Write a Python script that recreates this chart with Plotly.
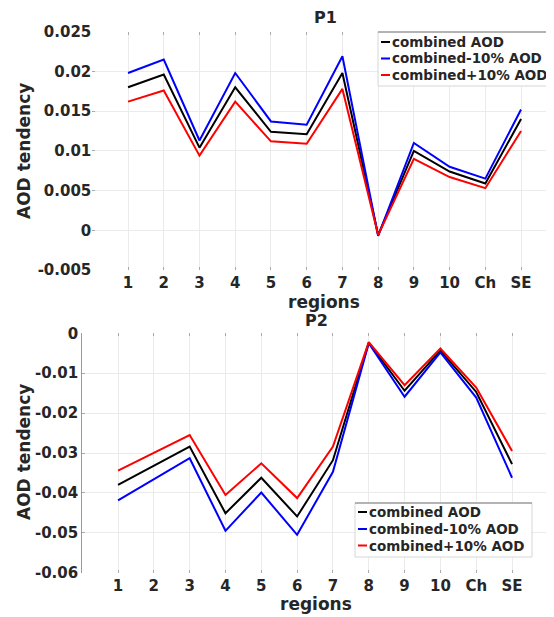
import plotly.graph_objects as go

# reference canvas (screen pixels) and the page body margin of the browser
W, H = 554, 617
BODY = 8
FW, FH = W - BODY, H - BODY

regions = ["1", "2", "3", "4", "5", "6", "7", "8", "9", "10", "Ch", "SE"]
xpos = list(range(1, len(regions) + 1))
series_names = ["combined AOD", "combined-10% AOD", "combined+10% AOD"]
series_colors = ["#000000", "#0000ff", "#ff0000"]

# P1 values
p1_combined = [0.0180, 0.0196, 0.0104, 0.0180, 0.0124, 0.0121, 0.0198, -0.0006, 0.0100, 0.0074, 0.0059, 0.0140]
p1_minus10 = [0.0198, 0.0215, 0.0113, 0.0198, 0.0137, 0.0133, 0.0219, -0.0007, 0.0110, 0.0080, 0.0065, 0.0152]
p1_plus10 = [0.0162, 0.0176, 0.0094, 0.0162, 0.0112, 0.0109, 0.0178, -0.0006, 0.0090, 0.0067, 0.0053, 0.0125]

# P2 values
p2_combined = [-0.0380, -0.0333, -0.0284, -0.0451, -0.0362, -0.0459, -0.0318, -0.0023, -0.0144, -0.0043, -0.0147, -0.0328]
p2_minus10 = [-0.0419, -0.0366, -0.0313, -0.0495, -0.0399, -0.0505, -0.0347, -0.0025, -0.0159, -0.0048, -0.0161, -0.0362]
p2_plus10 = [-0.0344, -0.0300, -0.0255, -0.0405, -0.0326, -0.0413, -0.0284, -0.0022, -0.0130, -0.0038, -0.0136, -0.0295]

p1_yticks = [-0.005, 0, 0.005, 0.01, 0.015, 0.02, 0.025]
p1_yticktext = ["-0.005", "0", "0.005", "0.01", "0.015", "0.02", "0.025"]
p2_yticks = [-0.06, -0.05, -0.04, -0.03, -0.02, -0.01, 0]
p2_yticktext = ["-0.06", "-0.05", "-0.04", "-0.03", "-0.02", "-0.01", "0"]

TXT = "#262626"
FONT = "DejaVu Sans"


def px(x):
    return (x - BODY) / FW


def py(y):
    return 1 - (y - BODY) / FH


fig = go.Figure()

for vals, name, color in zip([p1_combined, p1_minus10, p1_plus10], series_names, series_colors):
    fig.add_trace(go.Scatter(x=xpos, y=vals, mode="lines", name=name,
                             line=dict(color=color, width=2), xaxis="x", yaxis="y", showlegend=False))
for vals, name, color in zip([p2_combined, p2_minus10, p2_plus10], series_names, series_colors):
    fig.add_trace(go.Scatter(x=xpos, y=vals, mode="lines", name=name,
                             line=dict(color=color, width=2), xaxis="x2", yaxis="y2", showlegend=False))

tickfont = dict(family=FONT, size=15, color=TXT, weight="bold")
grid = "#ebebeb"

x1_left, x1_step = 92.3, 35.73
x2_left, x2_step = 82.2, 35.82
common_x = dict(tickvals=xpos, ticktext=regions, tickfont=tickfont, showgrid=True, gridcolor=grid,
                gridwidth=1, zeroline=False, ticks="inside", ticklen=3, tickcolor="#aaaaaa",
                mirror="ticks", ticklabelstandoff=2, automargin=False)
common_y = dict(tickfont=tickfont, showgrid=True, gridcolor=grid, gridwidth=1, zeroline=False,
                ticks="inside", ticklen=3, tickcolor="#aaaaaa", automargin=False)

fig.update_layout(
    width=FW, height=FH,
    margin=dict(l=0, r=0, t=0, b=0, pad=0, autoexpand=False),
    paper_bgcolor="white", plot_bgcolor="white",
    showlegend=False,
    xaxis=dict(domain=[px(x1_left), 1.0], range=[0, (W - x1_left) / x1_step], anchor="y", **common_x),
    yaxis=dict(domain=[py(270), py(31.7)], range=[-0.005, 0.025], anchor="x",
               tickvals=p1_yticks, ticktext=p1_yticktext, mirror="ticks", **common_y),
    xaxis2=dict(domain=[px(x2_left), px(x2_left + 13 * x2_step)], range=[0, 13], anchor="y2", **common_x),
    yaxis2=dict(domain=[py(572.7), py(333.3)], range=[-0.06, 0], anchor="x2",
                tickvals=p2_yticks, ticktext=p2_yticktext, showline=True, linecolor="#999999",
                linewidth=1, mirror=True, **common_y),
)

ann = []
shapes = []


def label(x, y, text, size, angle=0):
    ann.append(dict(x=px(x), y=py(y), xref="paper", yref="paper", text=text, showarrow=False,
                    textangle=angle, xanchor="center", yanchor="middle",
                    font=dict(family=FONT, size=size, color=TXT, weight="bold")))


label(325, 18, "P1", 16)
label(316, 320, "P2", 16)
label(324, 302, "regions", 17)
label(316, 604, "regions", 17)
label(24, 151, "AOD tendency", 17, -90)
label(24, 452, "AOD tendency", 17, -90)


def legend(x0, y0, x1, y1, rows_y, sample_x0, text_x, size):
    shapes.append(dict(type="rect", xref="paper", yref="paper", x0=px(x0), x1=min(px(x1), 1.0),
                       y0=py(y1), y1=py(y0),
                       fillcolor="white", line=dict(color="#d6d6d6", width=1), layer="above"))
    shapes.append(dict(type="line", xref="paper", yref="paper", x0=px(x0), x1=min(px(x1), 1.0),
                       y0=py(y0), y1=py(y0), line=dict(color="#a0a0a0", width=1.5), layer="above"))
    for ry, name, color in zip(rows_y, series_names, series_colors):
        shapes.append(dict(type="line", xref="paper", yref="paper", x0=px(sample_x0), x1=px(sample_x0 + 9),
                           y0=py(ry), y1=py(ry), line=dict(color=color, width=2), layer="above"))
        ann.append(dict(x=px(text_x), y=py(ry), xref="paper", yref="paper", text=name, showarrow=False,
                        xanchor="left", yanchor="middle",
                        font=dict(family=FONT, size=size, color=TXT, weight="bold")))


legend(378, 32, 556, 86, [42, 58.5, 75], 381, 390, 13.5)
legend(355, 503, 532, 557, [512, 529, 545.5], 358, 367, 13.5)

fig.update_layout(annotations=ann, shapes=shapes)

fig.write_html("out.html")
